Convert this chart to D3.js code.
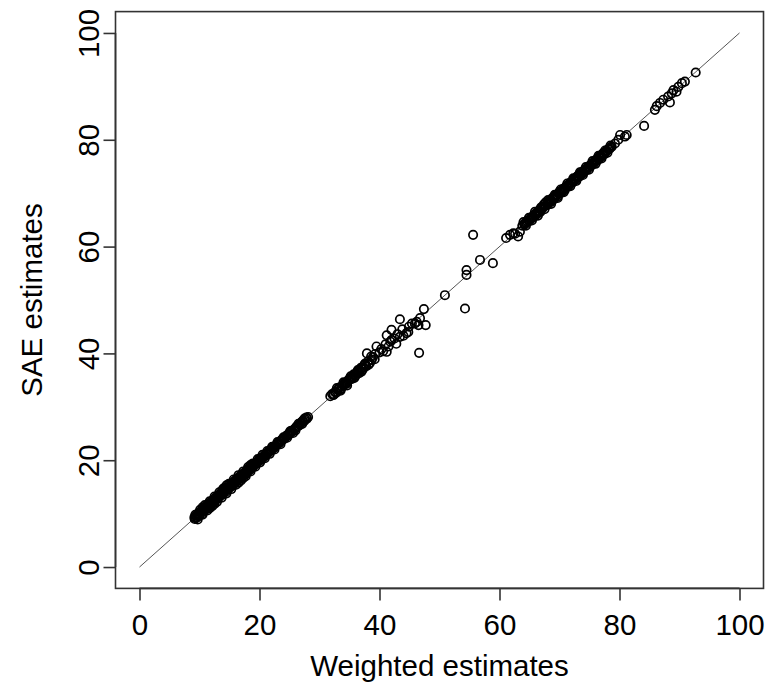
<!DOCTYPE html>
<html>
<head>
<meta charset="utf-8">
<script src="https://cdn.jsdelivr.net/npm/d3@7"></script>
<style>
  html, body { margin: 0; padding: 0; background: #fff; }
  svg text { font-family: "Liberation Sans", Arial, sans-serif; fill: #000; }
</style>
</head>
<body>
<svg id="chart" width="767" height="687"></svg>
<script>
// Direct (weighted) estimates against small-area (SAE) estimates, one pair per area
const weighted = [
  // low band
  9.2, 9.4, 9.6, 9.8, 10.0, 10.2, 10.4, 10.6, 10.8, 11.0, 11.2, 11.4, 11.6, 11.8, 12.0, 12.2, 12.4, 12.6, 12.8, 13.0,
  13.2, 13.4, 13.6, 13.8, 14.0, 14.2, 14.4, 14.6, 14.8, 15.0, 15.2, 15.4, 15.6, 15.8, 16.0, 16.2, 16.4, 16.6, 16.8, 17.0,
  17.2, 17.4, 17.6, 17.8, 18.0, 18.2, 18.4, 18.7, 19.0, 19.3, 19.6, 19.9, 20.2, 20.5, 20.8, 21.1, 21.4, 21.7, 22.0, 22.3,
  22.6, 22.9, 23.3, 23.7, 24.1, 24.5, 24.9, 25.3, 25.6, 25.9, 26.3, 26.7, 27.0, 27.3, 27.6, 27.9, 28.1,
  10.5, 12.5, 14.5, 16.5, 18.5, 11.7, 13.9, 17.3,
  9.3, 9.7, 10.1, 10.5, 10.9, 11.3, 11.7, 12.1, 12.5, 12.9, 13.3, 13.7, 14.1, 14.5, 14.9, 15.3, 15.7, 16.1, 16.5, 16.9,
  17.3, 17.7, 18.1, 18.5, 18.9, 19.3, 19.7, 20.1, 20.5, 20.9, 21.3, 21.7, 22.1, 22.5, 23.0, 23.5, 24.0, 24.6, 25.1, 26.0,
  26.5, 27.1, 27.5,
  9.15, 9.4, 9.65, 9.9, 10.15, 10.4, 10.65, 10.9, 11.15, 11.4, 11.65, 11.9, 12.15, 12.4, 12.65, 12.9, 13.15, 13.4, 13.65, 13.9,
  14.15, 14.4, 14.65, 14.9, 15.15, 15.4, 15.65, 15.9, 16.15, 16.4, 16.65, 16.9, 17.15, 17.4, 17.65, 17.9, 18.15, 18.4, 18.65, 18.9,
  19.15, 19.4, 19.65, 19.9, 20.15, 20.4, 20.65, 20.9, 21.15, 21.4, 21.65, 21.9, 22.15, 22.4, 22.65, 22.9, 23.15, 23.4, 23.65, 23.9,
  24.15, 24.4, 24.7, 25.0, 25.4, 25.8, 26.1, 26.5, 26.9, 27.2, 27.5, 27.8,
  // middle range
  31.8, 32.6, 33.0, 33.3, 33.6, 33.9, 34.2, 34.5, 34.8, 35.1, 35.4, 35.7, 36.0, 36.3, 36.6, 36.9, 37.2, 37.5, 37.8, 38.1,
  38.4, 38.7, 38.9, 39.2, 39.3, 37.9, 39.5, 40.0, 40.3, 40.6, 41.2, 41.5, 41.0, 41.8, 42.0, 41.2, 42.0, 43.4, 44.5, 43.8,
  43.4, 44.9, 45.9, 46.5, 47.7, 45.4, 46.2, 46.75, 46.6, 47.4, 42.5, 43.0, 44.0, 44.8, 42.8,
  32.3, 32.9, 33.5, 34.0, 34.6, 35.2, 35.8, 36.4, 37.0, 37.6, 38.2, 38.6,
  32.1, 32.4, 32.75, 33.15, 33.45, 33.75, 34.05, 34.35, 34.65, 34.95, 35.25, 35.55, 35.85, 36.15, 36.45, 36.75, 37.05, 37.35, 37.65,
  50.9, 54.5, 54.5, 54.25, 55.6, 56.75, 58.9,
  // upper band
  61.1, 61.75, 62.3, 62.6, 63.1, 63.4, 63.8, 64.2, 64.6, 65.0, 65.3, 65.6, 65.9, 66.2, 66.5, 66.8, 67.1, 67.4, 67.7, 68.0,
  68.2, 68.5, 68.8, 69.1, 69.4, 69.7, 70.0, 70.3, 70.6, 70.9, 71.2, 71.5, 71.8, 72.1, 72.4, 72.7, 73.0, 73.3, 73.6, 73.9,
  74.2, 74.5, 74.8, 75.1, 75.4, 75.7, 76.0, 76.3, 76.6, 76.9, 77.2, 77.5, 77.8, 78.1, 78.4, 78.7, 79.25, 79.8, 80.1, 80.9,
  81.2,
  64.0, 64.4, 64.9, 65.4, 65.9, 66.4, 66.9, 67.5, 68.1, 68.6, 69.2, 69.7, 70.2, 70.7, 71.3, 71.8, 72.3, 72.8, 73.4, 73.9,
  74.4, 74.9, 75.5, 76.0, 76.5, 77.0, 77.6, 78.0, 78.5,
  64.15, 64.4, 64.65, 64.9, 65.15, 65.4, 65.65, 65.9, 66.15, 66.4, 66.65, 66.9, 67.15, 67.4, 67.65, 67.9, 68.15, 68.4, 68.65, 68.9,
  69.15, 69.4, 69.65, 69.9, 70.15, 70.4, 70.65, 70.9, 71.15, 71.4, 71.65, 71.9, 72.15, 72.4, 72.65, 72.9, 73.15, 73.4, 73.65, 73.9,
  74.15, 74.4, 74.65, 74.9, 75.15, 75.4, 75.65, 75.9, 76.15, 76.4, 76.65, 76.9, 77.15, 77.4, 77.65, 77.9, 78.2, 78.5,
  84.1, 85.9, 86.2, 86.75, 87.3, 88.1, 88.7, 89.0, 89.8, 90.4, 90.9, 88.4, 89.5, 92.7
];
const sae = [
  9.0, 9.6, 9.3, 10.1, 9.8, 10.4, 10.0, 10.8, 10.5, 11.3, 10.9, 11.7, 11.3, 12.1, 11.8, 12.5, 12.1, 12.9, 12.6, 13.3,
  13.0, 13.7, 13.4, 14.2, 13.8, 14.5, 14.1, 14.9, 14.6, 15.4, 15.0, 15.7, 15.3, 16.1, 15.8, 16.5, 16.2, 16.9, 16.6, 17.3,
  17.0, 17.6, 17.3, 18.0, 17.8, 18.5, 18.2, 18.8, 18.9, 19.4, 19.5, 20.1, 20.0, 20.6, 20.7, 21.2, 21.3, 21.8, 21.9, 22.4,
  22.5, 23.0, 23.2, 23.8, 24.0, 24.6, 24.8, 25.5, 25.1, 25.9, 26.4, 26.6, 27.1, 27.2, 27.7, 27.8, 28.1,
  11.2, 11.8, 15.3, 15.8, 19.1, 11.0, 14.6, 16.7,
  9.8, 8.9, 10.7, 9.8, 11.6, 10.6, 12.3, 11.4, 13.2, 12.2, 14.0, 13.0, 14.8, 13.8, 15.6, 14.6, 16.4, 15.4, 17.2, 16.2,
  17.9, 17.0, 18.7, 17.9, 19.4, 18.8, 20.2, 19.6, 21.0, 20.4, 21.7, 21.2, 22.5, 22.0, 23.4, 23.0, 24.3, 24.2, 25.4, 25.6,
  26.8, 26.8, 27.8,
  9.3, 9.2, 9.8, 9.7, 10.3, 10.5, 10.6, 11.0, 11.1, 11.4, 11.8, 11.7, 12.3, 12.4, 12.6, 13.0, 13.1, 13.4, 13.8, 13.9,
  14.1, 14.5, 14.7, 14.8, 15.3, 15.4, 15.6, 16.0, 16.1, 16.5, 16.7, 16.8, 17.3, 17.4, 17.7, 17.9, 18.2, 18.5, 18.6, 19.0,
  19.2, 19.3, 19.7, 19.9, 20.3, 20.4, 20.6, 21.0, 21.1, 21.5, 21.6, 22.0, 22.2, 22.3, 22.7, 22.9, 23.2, 23.5, 23.6, 24.0,
  24.2, 24.4, 24.7, 25.1, 25.3, 25.8, 26.2, 26.4, 27.0, 27.4, 27.4, 28.0,
  32.0, 32.8, 33.2, 33.6, 33.4, 34.1, 34.5, 34.3, 35.0, 35.4, 35.2, 36.1, 35.8, 36.6, 36.3, 37.3, 37.0, 37.9, 37.6, 38.5,
  38.2, 38.8, 39.3, 38.9, 39.9, 40.0, 41.3, 40.2, 40.8, 40.4, 40.3, 41.3, 41.7, 42.2, 42.5, 43.4, 44.4, 43.1, 43.8, 44.5,
  46.4, 45.0, 45.6, 45.3, 45.3, 45.6, 45.9, 46.6, 40.1, 48.3, 42.8, 43.6, 43.3, 44.0, 41.8,
  32.2, 33.5, 33.0, 34.6, 34.0, 35.7, 35.4, 36.9, 36.6, 38.1, 37.9, 39.4,
  32.4, 32.3, 32.6, 33.4, 33.2, 33.8, 34.2, 34.4, 34.7, 35.1, 35.3, 35.6, 36.0, 36.2, 36.5, 36.8, 37.2, 37.4, 37.8,
  50.9, 55.6, 54.7, 48.4, 62.2, 57.5, 56.9,
  61.6, 62.2, 62.5, 62.4, 61.9, 62.8, 63.9, 64.1, 64.8, 64.8, 65.5, 65.4, 66.1, 66.0, 66.7, 66.5, 67.4, 67.9, 68.3, 67.8,
  68.5, 68.3, 69.1, 68.9, 69.6, 69.4, 70.3, 70.1, 70.8, 70.6, 71.4, 71.3, 72.0, 71.9, 72.7, 72.5, 73.2, 73.1, 73.9, 73.7,
  74.4, 74.3, 75.0, 74.9, 75.6, 75.5, 76.2, 76.1, 76.8, 76.7, 77.4, 77.3, 77.9, 78.2, 78.4, 78.7, 79.3, 80.0, 80.9, 80.6,
  80.9,
  64.6, 63.9, 65.4, 64.9, 66.5, 65.8, 67.3, 67.0, 68.7, 68.0, 69.7, 69.1, 70.7, 70.2, 71.8, 71.3, 72.8, 72.3, 73.9, 73.4,
  74.9, 74.4, 76.0, 75.5, 77.0, 76.5, 78.0, 77.6, 78.9,
  64.3, 64.5, 64.6, 65.0, 65.2, 65.5, 65.7, 65.8, 66.3, 66.4, 66.6, 67.0, 67.1, 67.5, 67.7, 67.9, 68.2, 68.5, 68.6, 69.0,
  69.2, 69.4, 69.7, 69.9, 70.2, 70.5, 70.6, 71.0, 71.2, 71.4, 71.7, 72.0, 72.2, 72.4, 72.7, 73.0, 73.2, 73.5, 73.7, 73.9,
  74.2, 74.5, 74.7, 74.9, 75.2, 75.4, 75.7, 76.0, 76.2, 76.4, 76.7, 77.0, 77.2, 77.4, 77.7, 78.0, 78.3, 78.6,
  82.6, 85.6, 86.3, 86.9, 87.5, 88.1, 88.7, 89.3, 89.9, 90.6, 90.9, 87.0, 89.0, 92.6
];
const xTicks = [0, 20, 40, 60, 80, 100];
const yTicks = [0, 20, 40, 60, 80, 100];
const xTitle = "Weighted estimates";
const yTitle = "SAE estimates";

const n = Math.min(weighted.length, sae.length);
const points = weighted.slice(0, n).map((w, i) => ({ w, s: sae[i] }));

const svg = d3.select("#chart");
const plotLeft = 115.5, plotRight = 763.5, plotTop = 11.6, plotBottom = 588.4;
const fontSize = 29.5;

// R-style 4% padding around the 0-100 range
const x = d3.scaleLinear().domain([-4, 104]).range([plotLeft, plotRight]);
const y = d3.scaleLinear().domain([-4, 104]).range([plotBottom, plotTop]);

// identity reference line
svg.append("line")
  .attr("x1", x(0)).attr("y1", y(0))
  .attr("x2", x(100)).attr("y2", y(100))
  .attr("stroke", "#555").attr("stroke-width", 1);

// open circles
svg.append("g")
  .selectAll("circle")
  .data(points)
  .join("circle")
  .attr("cx", d => x(d.w))
  .attr("cy", d => y(d.s))
  .attr("r", 4.2)
  .attr("fill", "none")
  .attr("stroke", "#000")
  .attr("stroke-width", 1.7);

// frame
svg.append("rect")
  .attr("x", plotLeft).attr("y", plotTop)
  .attr("width", plotRight - plotLeft).attr("height", plotBottom - plotTop)
  .attr("fill", "none").attr("stroke", "#333").attr("stroke-width", 1.6);

// x axis
const xAxis = d3.axisBottom(x).tickValues(xTicks).tickSize(12).tickPadding(14).tickSizeOuter(0);
const gx = svg.append("g").attr("transform", `translate(0,${plotBottom})`).call(xAxis);
gx.select(".domain").attr("d", `M${x(0)},0H${x(100)}`).attr("stroke", "#333").attr("stroke-width", 1.6);
gx.selectAll(".tick line").attr("stroke", "#333").attr("stroke-width", 1.6);
gx.selectAll(".tick text").attr("font-size", fontSize).attr("font-family", "Liberation Sans, Arial, sans-serif").attr("fill", "#000");

// y axis with rotated labels
const yAxis = d3.axisLeft(y).tickValues(yTicks).tickSize(12).tickPadding(10).tickSizeOuter(0);
const gy = svg.append("g").attr("transform", `translate(${plotLeft},0)`).call(yAxis);
gy.select(".domain").attr("d", `M0,${y(0)}V${y(100)}`).attr("stroke", "#333").attr("stroke-width", 1.6);
gy.selectAll(".tick line").attr("stroke", "#333").attr("stroke-width", 1.6);
gy.selectAll(".tick text")
  .attr("font-size", fontSize).attr("font-family", "Liberation Sans, Arial, sans-serif").attr("fill", "#000")
  .attr("x", null).attr("dy", null)
  .attr("text-anchor", "middle")
  .attr("transform", "translate(-17,0) rotate(-90)");

// axis titles
svg.append("text")
  .attr("x", x(50)).attr("y", 676)
  .attr("text-anchor", "middle").attr("font-size", fontSize)
  .text(xTitle);
svg.append("text")
  .attr("transform", `translate(42,${y(50)}) rotate(-90)`)
  .attr("text-anchor", "middle").attr("font-size", fontSize)
  .text(yTitle);
</script>
</body>
</html>
